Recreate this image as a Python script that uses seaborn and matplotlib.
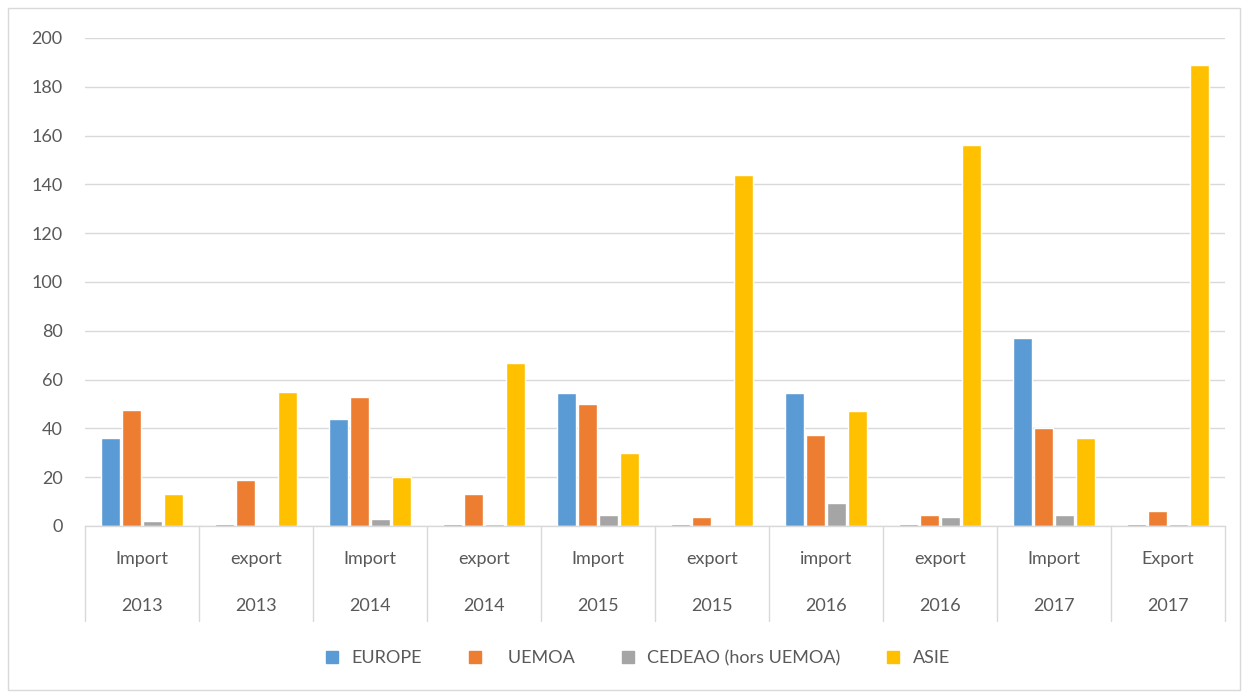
import matplotlib
matplotlib.use("Agg")
import matplotlib.pyplot as plt
import seaborn as sns
import pandas as pd
from matplotlib.patches import Rectangle
from matplotlib.lines import Line2D

categories = ["Import\n2013", "export\n2013", "Import\n2014", "export\n2014", "Import\n2015",
              "export\n2015", "import\n2016", "export\n2016", "Import\n2017", "Export\n2017"]
series = ["EUROPE", "UEMOA", "CEDEAO (hors UEMOA)", "ASIE"]
europe = [36, 1, 44, 1, 54.5, 1, 54.5, 1, 77, 1]
uemoa = [47.5, 19, 53, 13, 50, 3.5, 37.5, 4.5, 40, 6]
cedeao = [2, 0, 3, 1, 4.5, 0, 9.5, 3.5, 4.5, 1]
asie = [13, 55, 20, 67, 30, 144, 47, 156, 36, 189]
colors = ["#5B9BD5", "#ED7D31", "#A5A5A5", "#FFC000"]

rows = []
for s, vals in zip(series, [europe, uemoa, cedeao, asie]):
    for c, v in zip(categories, vals):
        rows.append({"cat": c, "serie": s, "val": v})
df = pd.DataFrame(rows)

sns.set_theme(style="white")
plt.rcParams['font.family'] = ['Lato', 'DejaVu Sans']

fig = plt.figure(figsize=(12.47, 6.98), dpi=100)
ax = fig.add_axes([85/1247, 1 - 526/698, (1225-85)/1247, (526-38)/698])

sns.barplot(data=df, x="cat", y="val", hue="serie", order=categories, hue_order=series,
            palette=colors, width=0.74, gap=0.12, ax=ax, legend=False, saturation=1)

ax.set_ylim(0, 200)
ax.set_xlim(-0.5, len(categories) - 0.5)
ax.set_yticks(range(0, 201, 20))
ax.yaxis.grid(True, color="#D9D9D9", linewidth=1)
ax.set_axisbelow(True)
for sp in ["top", "right", "left"]:
    ax.spines[sp].set_visible(False)
ax.spines["bottom"].set_color("#D9D9D9")
ax.spines["bottom"].set_linewidth(1)
ax.set_xlabel("")
ax.set_ylabel("")
ax.tick_params(axis="y", length=0, labelsize=13, labelcolor="#595959", pad=16)
ax.tick_params(axis="x", length=0, labelsize=13, labelcolor="#595959", pad=18)
ax.set_xticks(range(len(categories)))
ax.set_xticklabels(categories, linespacing=3.4)

trans = ax.get_xaxis_transform()
for i in range(len(categories) + 1):
    ax.plot([i - 0.5, i - 0.5], [0, -0.195], transform=trans, color="#D9D9D9",
            linewidth=1, clip_on=False)

handles = [Line2D([0], [0], marker="s", linestyle="", markersize=8, markerfacecolor=c,
                  markeredgecolor=c) for c in colors]
labels = ["EUROPE", "   UEMOA", "CEDEAO (hors UEMOA)", "ASIE"]
fig.legend(handles, labels, loc="center", bbox_to_anchor=(632/1247, 1 - 658/698), ncol=4,
           frameon=False, fontsize=13, handletextpad=0.1, columnspacing=1.9,
           labelcolor="#595959")

fig.patches.append(Rectangle((8/1247, 8/698), 1232/1247, 682/698, transform=fig.transFigure,
                             fill=False, edgecolor="#D9D9D9", linewidth=1))

fig.savefig("out.png", dpi=100, facecolor="white")
